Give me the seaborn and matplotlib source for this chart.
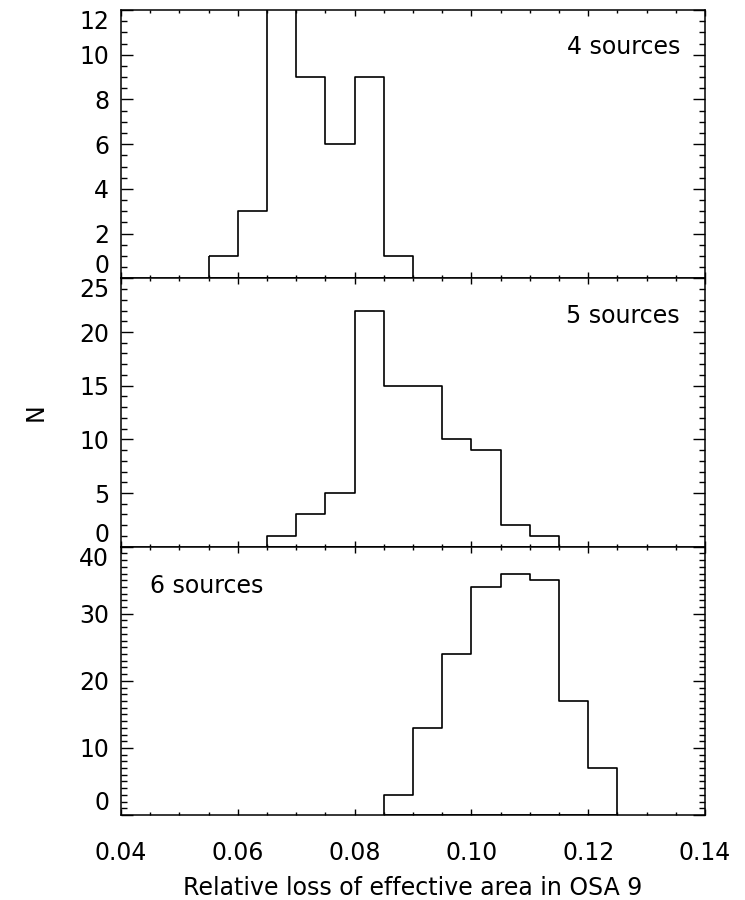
import numpy as np
import pandas as pd
import matplotlib
matplotlib.use("Agg")
import matplotlib.pyplot as plt
from matplotlib.ticker import MultipleLocator
import seaborn as sns

# Histogrammes : bord gauche des classes (largeur 0.005) et effectifs
BIN_WIDTH = 0.005

edges_4 = [0.055, 0.060, 0.065, 0.070, 0.075, 0.080, 0.085]
counts_4 = [1, 3, 13, 9, 6, 9, 1]

edges_5 = [0.065, 0.070, 0.075, 0.080, 0.085, 0.090, 0.095, 0.100, 0.105, 0.110]
counts_5 = [1, 3, 5, 22, 15, 15, 10, 9, 2, 1]

edges_6 = [0.085, 0.090, 0.095, 0.100, 0.105, 0.110, 0.115, 0.120]
counts_6 = [3, 13, 24, 34, 36, 35, 17, 7]

labels = ["4 sources", "5 sources", "6 sources"]
y_max = [12, 25, 40]
y_major = [2, 5, 10]
y_minor = [0.5, 1, 1]
x_ticks = [0.04, 0.06, 0.08, 0.10, 0.12, 0.14]
x_ticklabels = ["0.04", "0.06", "0.08", "0.10", "0.12", "0.14"]

sns.set_style("ticks")
plt.rcParams["font.family"] = ["DejaVu Sans"]
plt.rcParams["axes.linewidth"] = 1.1
plt.rcParams["text.color"] = "black"
plt.rcParams["axes.labelcolor"] = "black"

fig, axes = plt.subplots(3, 1, figsize=(7.45, 9), dpi=100, sharex=True)
fig.subplots_adjust(left=0.1624, right=0.9463, top=0.9889, bottom=0.0944, hspace=0)

datasets = [(edges_4, counts_4), (edges_5, counts_5), (edges_6, counts_6)]
for i, (ax, (edges, counts)) in enumerate(zip(axes, datasets)):
    df = pd.DataFrame({"x": np.array(edges) + BIN_WIDTH / 2, "n": counts})
    bins = list(edges) + [edges[-1] + BIN_WIDTH]
    sns.histplot(data=df, x="x", weights="n", bins=bins, element="step",
                 fill=True, color="black", facecolor="none", edgecolor="black",
                 linewidth=1.2, ax=ax)
    ax.set_xlim(0.04, 0.14)
    ax.set_ylim(0, y_max[i])
    ax.set_xlabel("")
    ax.set_ylabel("")
    for s in ax.spines.values():
        s.set_visible(True)
        s.set_color("black")

    yt = np.arange(0, y_max[i] + 0.01, y_major[i])
    ax.set_yticks(yt)
    ax.set_yticklabels([str(int(v)) for v in yt])
    ax.yaxis.set_minor_locator(MultipleLocator(y_minor[i]))
    ax.xaxis.set_minor_locator(MultipleLocator(0.005))
    ax.set_xticks(x_ticks)

    ax.tick_params(axis="both", which="both", direction="in", top=True, right=True,
                   colors="black", labelsize=17, width=1.0)
    ax.tick_params(axis="y", which="major", length=8.6, pad=8.5)
    ax.tick_params(axis="y", which="minor", length=4.3)
    ax.tick_params(axis="x", which="major", length=4.3, pad=18.5)
    ax.tick_params(axis="x", which="minor", length=2.2)

    # étiquettes extrêmes décalées vers l'intérieur, comme sur l'original
    tl = ax.get_yticklabels()
    tl[0].set_va("bottom")
    tl[-1].set_va("top")

axes[0].text(0.957, 0.8625, labels[0], transform=axes[0].transAxes,
             ha="right", va="center", fontsize=17, color="black")
axes[1].text(0.957, 0.859, labels[1], transform=axes[1].transAxes,
             ha="right", va="center", fontsize=17, color="black")
axes[2].text(0.05, 0.854, labels[2], transform=axes[2].transAxes,
             ha="left", va="center", fontsize=17, color="black")

axes[2].set_xticklabels(x_ticklabels)
axes[2].set_xlabel("Relative loss of effective area in OSA 9", fontsize=17,
                   labelpad=8, color="black")
fig.text(36 / 745, 1 - 412 / 900, "N", rotation=90, ha="center", va="center",
         fontsize=17, color="black")

fig.savefig("out.png", dpi=100)
